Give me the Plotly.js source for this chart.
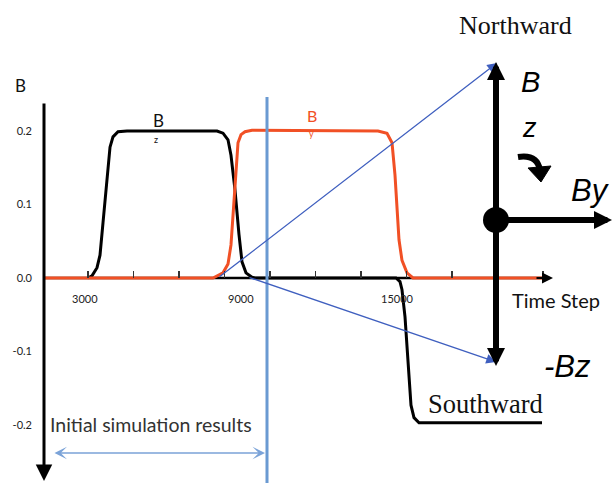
<!DOCTYPE html>
<html><head><meta charset="utf-8">
<script src="https://cdn.plot.ly/plotly-3.0.1.min.js"></script>
<style>html,body{margin:0;padding:0;background:#fff}#chart{width:613px;height:483px}</style>
</head><body><div id="chart"></div>
<script>
// ---- data (time step, field B) ----
const bzSteps  = [3115, 3269, 3462, 3577, 3692, 3846, 3962, 4077, 4269, 4615, 8077, 8308, 8500, 8615, 8769, 8923, 9038, 9192, 9423, 9538, 14962, 15115, 15192, 15308, 15423, 15538, 15654, 15846, 20577];
const bzValues = [0, 0.003, 0.014, 0.031, 0.075, 0.140, 0.178, 0.192, 0.199, 0.2, 0.2, 0.197, 0.188, 0.167, 0.120, 0.059, 0.022, 0.007, 0.001, 0, 0, -0.005, -0.016, -0.053, -0.121, -0.173, -0.190, -0.197, -0.197];
const bySteps  = [1423, 7923, 8308, 8500, 8615, 8769, 8885, 9000, 9154, 9423, 14269, 14615, 14808, 14923, 15077, 15192, 15385, 15615, 20577];
const byValues = [0, 0, 0.007, 0.019, 0.045, 0.120, 0.184, 0.195, 0.199, 0.201, 0.2, 0.197, 0.184, 0.140, 0.052, 0.024, 0.007, 0, 0];
const xTickSteps = [3115, 4865, 6615, 8365, 10115, 11865, 13615, 15365, 17115, 18865, 20615];
const xLabelSteps = [3000, 9000, 15000];
const xLabelText = ['3000', '9000', '15000'];
const yTickVals = [-0.2, -0.1, 0, 0.1, 0.2];
const yTickText = ['-0.2', '-0.1', '0.0', '0.1', '0.2'];
const simEndStep = 10000;

// ---- layout helpers (pixel -> paper) ----
const W = 613, H = 483;
const px = x => x / W, py = y => 1 - y / H;
const XR = [-269.2, 23307.7], YR = [-0.2789, 0.3782];
const zeroPaper = (0 - YR[0]) / (YR[1] - YR[0]);

function label(x, y, text, size, color, family, extra) {
  return Object.assign({xref: 'paper', yref: 'paper', x: px(x), y: py(y), text: text, showarrow: false,
    xanchor: 'center', yanchor: 'middle', font: {size: size, color: color || '#000', family: family || 'Liberation Sans'}}, extra || {});
}
function arrow(x1, y1, x2, y2, color, width, size, head, both) {
  return {xref: 'paper', yref: 'paper', x: px(x2), y: py(y2), ax: x1 - x2, ay: y1 - y2, axref: 'pixel', ayref: 'pixel',
    text: '', showarrow: true, arrowcolor: color, arrowwidth: width, arrowsize: size, arrowhead: head,
    arrowside: both ? 'end+start' : 'end', startarrowhead: head, startarrowsize: size, standoff: 0, startstandoff: 0};
}
const P = (x, y) => px(x).toFixed(5) + ',' + py(y).toFixed(5);

const traces = [
  {x: bzSteps, y: bzValues, mode: 'lines', line: {color: '#000', width: 3}, hoverinfo: 'skip'},
  {x: bySteps, y: byValues, mode: 'lines', line: {color: '#F15025', width: 3}, hoverinfo: 'skip'}
];

const annotations = [
  // axis arrows
  arrow(44, 102, 44, 481, '#000', 3, 1.1, 2),
  arrow(535, 278, 553, 278, '#000', 2, 1.1, 2),
  // blue projection lines
  arrow(218, 278, 497, 63, '#3F5FBF', 1.3, 1.5, 2),
  arrow(248, 277, 496, 362, '#3F5FBF', 1.3, 1.5, 2),
  // initial simulation range
  arrow(53, 453, 265, 453, '#7BA3D8', 1.6, 1.3, 3, true),
  // field diagram
  arrow(496, 213, 496, 62, '#000', 6, 0.6, 2),
  arrow(496, 213, 496, 366, '#000', 6, 0.6, 2),
  arrow(496, 220, 619, 220, '#000', 6, 0.6, 2),
  // texts
  label(20, 85, 'B', 17, '#111', 'Lato'),
  label(158, 120, 'B', 17, '#111', 'Lato'),
  label(156, 139, 'z', 9, '#111', 'Lato'),
  label(312, 115, 'B', 16, '#F15025', 'Lato'),
  label(311, 133, 'y', 9, '#F15025', 'Lato'),
  label(151, 424, 'Initial simulation results', 19.5, '#333', 'Lato'),
  label(556, 300, 'Time Step', 20, '#111', 'Lato'),
  label(515, 25, 'Northward', 26, '#111', 'Liberation Serif'),
  label(485, 404, 'Southward', 26.5, '#111', 'Liberation Serif'),
  label(530, 82, '<i>B</i>', 29, '#000'),
  label(529, 128, '<i>z</i>', 27, '#000'),
  label(590, 190, '<i>By</i>', 31, '#000'),
  label(567, 366, '<i>-Bz</i>', 31, '#000')
];
xLabelSteps.forEach((s, i) => annotations.push({xref: 'x', yref: 'paper', x: s, y: py(298), text: xLabelText[i],
  showarrow: false, xanchor: 'center', yanchor: 'middle', font: {size: 11, color: '#222', family: 'Lato'}}));

const shapes = [
  {type: 'line', xref: 'x', yref: 'y', x0: 1423, x1: 20731, y0: 0, y1: 0, line: {color: '#000', width: 2.5}, layer: 'below'},
  {type: 'line', xref: 'x', yref: 'paper', x0: simEndStep, x1: simEndStep, y0: 0, y1: py(97), line: {color: '#6A9AD2', width: 3}},
  {type: 'circle', xref: 'paper', yref: 'paper', x0: px(483), x1: px(509), y0: py(233), y1: py(207), fillcolor: '#000', line: {color: '#000', width: 0}},
  {type: 'path', xref: 'paper', yref: 'paper', path: 'M' + P(518, 157) + ' Q' + P(537, 154) + ' ' + P(540, 170), line: {color: '#000', width: 6}},
  {type: 'path', xref: 'paper', yref: 'paper', path: 'M' + P(528, 168) + ' L' + P(551, 166) + ' L' + P(541, 182) + ' Z', fillcolor: '#000', line: {color: '#000', width: 1}}
];

const layout = {
  width: W, height: H, margin: {l: 0, r: 0, t: 0, b: 0}, showlegend: false,
  paper_bgcolor: '#fff', plot_bgcolor: '#fff',
  xaxis: {range: XR, showgrid: false, zeroline: false, showline: false, showticklabels: false,
    tickmode: 'array', tickvals: xTickSteps, ticks: 'inside', ticklen: 7, tickwidth: 1.2, tickcolor: '#333',
    anchor: 'free', position: zeroPaper, fixedrange: true},
  yaxis: {range: YR, showgrid: false, zeroline: false, showline: false, ticks: '',
    tickmode: 'array', tickvals: yTickVals, ticktext: yTickText, ticklabelstandoff: 12,
    tickfont: {size: 11, color: '#222', family: 'Lato'}, anchor: 'free', position: px(44), fixedrange: true},
  annotations: annotations, shapes: shapes
};
Plotly.newPlot('chart', traces, layout, {staticPlot: true, displayModeBar: false});
</script></body></html>
